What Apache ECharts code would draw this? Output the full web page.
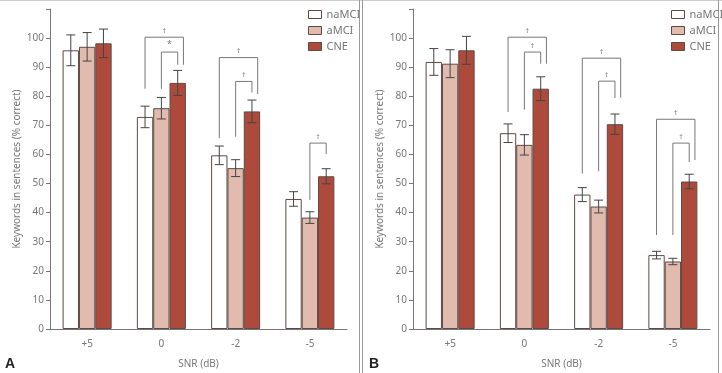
<!DOCTYPE html>
<html>
<head>
<meta charset="utf-8">
<script src="https://cdn.jsdelivr.net/npm/echarts@6/dist/echarts.min.js"></script>
<style>
  html, body { margin: 0; padding: 0; background: #fff; }
  #chart { width: 722px; height: 373px; }
</style>
</head>
<body>
<div id="chart"></div>
<script>
const categories = ['+5', '0', '-2', '-5']
const groups = ['naMCI', 'aMCI', 'CNE']
const yTicks = [0, 10, 20, 30, 40, 50, 60, 70, 80, 90, 100]

// panel A
const naMCI_A = [95.8, 72.9, 59.7, 44.7]
const naMCI_A_err = [5.3, 3.7, 3.2, 2.5]
const aMCI_A = [97.0, 75.9, 55.3, 38.3]
const aMCI_A_err = [4.9, 3.7, 2.9, 2.0]
const CNE_A = [98.2, 84.6, 74.8, 52.5]
const CNE_A_err = [4.9, 4.3, 3.9, 2.6]
// [category, fromBar, toBar, top, leftEnd, rightEnd, mark]
const brackets_A = [
  [1, 0, 2, 100.3, 82.6, 90.8, '†'],
  [1, 1, 2, 95.2, 82.6, 90.8, '*'],
  [2, 0, 2, 93.3, 65.6, 80.8, '†'],
  [2, 1, 2, 85.1, 66.1, 81.3, '†'],
  [3, 1, 2, 63.9, 44.4, 60.1, '†']
]

// panel B
const naMCI_B = [91.8, 67.3, 46.2, 25.4]
const naMCI_B_err = [4.6, 3.2, 2.4, 1.3]
const aMCI_B = [91.2, 63.3, 42.1, 23.2]
const aMCI_B_err = [4.8, 3.5, 2.2, 1.1]
const CNE_B = [95.8, 82.6, 70.4, 50.7]
const CNE_B_err = [4.8, 4.1, 3.5, 2.5]
const brackets_B = [
  [1, 0, 2, 100.3, 74.6, 91.2, '†'],
  [1, 1, 2, 95.2, 75.4, 91.2, '†'],
  [2, 0, 2, 93.1, 53.4, 79.5, '†'],
  [2, 1, 2, 85.2, 54.2, 79.4, '†'],
  [3, 0, 2, 72.1, 32.3, 58.1, '†'],
  [3, 1, 2, 63.9, 32.3, 57.4, '†']
]

const colors = ['#ffffff', '#e2bbaf', '#ad4a3c']
const edge = '#5e4a45'
const gapRatio = 0.34
const font = 'Noto Sans'

function barWidth(api) {
  return api.size([1, 0])[0] * (1 - gapRatio) / 3
}

function barX(api, cat, b) {
  return api.coord([cat, 0])[0] + (b - 1) * barWidth(api)
}

function makeErrSeries(panel, b, vals, errs) {
  return {
    type: 'custom',
    xAxisIndex: panel,
    yAxisIndex: panel,
    z: 5,
    silent: true,
    data: vals.map((v, i) => [i, v, errs[i]]),
    renderItem: (params, api) => {
      const cat = api.value(0)
      const v = api.value(1)
      const e = api.value(2)
      const x = barX(api, cat, b)
      const yt = api.coord([cat, v + e])[1]
      const yb = api.coord([cat, v - e])[1]
      const hw = 4.5
      const st = { stroke: '#444', lineWidth: 1 }
      return {
        type: 'group',
        children: [
          { type: 'line', shape: { x1: x, y1: yt, x2: x, y2: yb }, style: st },
          { type: 'line', shape: { x1: x - hw, y1: yt, x2: x + hw, y2: yt }, style: st },
          { type: 'line', shape: { x1: x - hw, y1: yb, x2: x + hw, y2: yb }, style: st }
        ]
      }
    }
  }
}

function makeBracketSeries(panel, list) {
  return {
    type: 'custom',
    xAxisIndex: panel,
    yAxisIndex: panel,
    z: 6,
    silent: true,
    data: list.map(r => r.slice(0, 6)),
    renderItem: (params, api) => {
      const cat = api.value(0)
      const from = api.value(1)
      const to = api.value(2)
      const bw = barWidth(api)
      const x1 = barX(api, cat, from)
      let x2 = barX(api, cat, to)
      if (from === 0) x2 += 0.35 * bw
      const yt = api.coord([cat, api.value(3)])[1]
      const yl = api.coord([cat, api.value(4)])[1]
      const yr = api.coord([cat, api.value(5)])[1]
      const mark = list[params.dataIndex][6]
      return {
        type: 'group',
        children: [
          {
            type: 'polyline',
            shape: { points: [[x1, yl], [x1, yt], [x2, yt], [x2, yr]] },
            style: { stroke: '#777', lineWidth: 1, fill: null }
          },
          {
            type: 'text',
            x: (x1 + x2) / 2,
            y: yt - 3,
            style: {
              text: mark,
              fill: '#777',
              font: (mark === '*' ? '9px ' : '7px ') + font,
              align: 'center',
              verticalAlign: 'bottom'
            }
          }
        ]
      }
    }
  }
}

function makeBars(panel, lists) {
  return lists.map((vals, b) => ({
    name: groups[b],
    type: 'bar',
    xAxisIndex: panel,
    yAxisIndex: panel,
    barGap: '0%',
    barCategoryGap: (gapRatio * 100) + '%',
    itemStyle: { color: colors[b], borderColor: edge, borderWidth: 1 },
    emphasis: { disabled: true },
    data: vals
  }))
}

const axisGray = '#777'
const labelGray = '#777'

function xAxisFor(panel) {
  return {
    type: 'category',
    gridIndex: panel,
    data: categories,
    name: 'SNR (dB)',
    nameLocation: 'middle',
    nameGap: 30,
    nameTextStyle: { color: labelGray, fontSize: 10, fontFamily: font },
    axisLine: { lineStyle: { color: axisGray } },
    axisTick: { length: 4, lineStyle: { color: axisGray } },
    axisLabel: { color: labelGray, fontSize: 10, fontFamily: font, margin: 10 }
  }
}

function yAxisFor(panel) {
  return {
    type: 'value',
    gridIndex: panel,
    min: 0,
    max: 110,
    interval: 10,
    name: 'Keywords in sentences (% correct)',
    nameLocation: 'middle',
    nameGap: 28,
    nameTextStyle: { color: labelGray, fontSize: 10, fontFamily: font },
    axisLine: { show: true, lineStyle: { color: axisGray } },
    axisTick: { show: true, length: 4, lineStyle: { color: axisGray } },
    axisLabel: {
      color: labelGray, fontSize: 10, fontFamily: font, margin: 6,
      formatter: v => (yTicks.includes(v) ? String(v) : '')
    },
    splitLine: { show: false }
  }
}

function legendFor(left) {
  return {
    data: groups,
    orient: 'vertical',
    left: left,
    top: 4,
    itemWidth: 13,
    itemHeight: 8,
    itemGap: 5,
    icon: 'rect',
    selectedMode: false,
    itemStyle: { borderWidth: 1 },
    textStyle: { color: labelGray, fontSize: 11, fontFamily: font }
  }
}

const chart = echarts.init(document.getElementById('chart'))
chart.setOption({
  animation: false,
  grid: [
    { left: 50, top: 9, width: 297, bottom: 44, outerBoundsMode: 'none' },
    { left: 413, top: 9, width: 297, bottom: 44, outerBoundsMode: 'none' }
  ],
  legend: [legendFor(303), legendFor(666)],
  xAxis: [xAxisFor(0), xAxisFor(1)],
  yAxis: [yAxisFor(0), yAxisFor(1)],
  series: [
    ...makeBars(0, [naMCI_A, aMCI_A, CNE_A]),
    makeErrSeries(0, 0, naMCI_A, naMCI_A_err),
    makeErrSeries(0, 1, aMCI_A, aMCI_A_err),
    makeErrSeries(0, 2, CNE_A, CNE_A_err),
    makeBracketSeries(0, brackets_A),
    ...makeBars(1, [naMCI_B, aMCI_B, CNE_B]),
    makeErrSeries(1, 0, naMCI_B, naMCI_B_err),
    makeErrSeries(1, 1, aMCI_B, aMCI_B_err),
    makeErrSeries(1, 2, CNE_B, CNE_B_err),
    makeBracketSeries(1, brackets_B)
  ],
  graphic: [
    { type: 'line', shape: { x1: 0, y1: 0.5, x2: 722, y2: 0.5 }, style: { stroke: '#ccc', lineWidth: 1 } },
    { type: 'line', shape: { x1: 359.5, y1: 0, x2: 359.5, y2: 373 }, style: { stroke: '#999', lineWidth: 1 } },
    { type: 'line', shape: { x1: 362.5, y1: 0, x2: 362.5, y2: 373 }, style: { stroke: '#999', lineWidth: 1 } },
    { type: 'line', shape: { x1: 718.5, y1: 0, x2: 718.5, y2: 373 }, style: { stroke: '#999', lineWidth: 1 } },
    { type: 'text', left: 5, top: 357, style: { text: 'A', font: 'bold 14px "Liberation Sans"', fill: '#222' } },
    { type: 'text', left: 369, top: 357, style: { text: 'B', font: 'bold 14px "Liberation Sans"', fill: '#222' } }
  ]
})
</script>
</body>
</html>
